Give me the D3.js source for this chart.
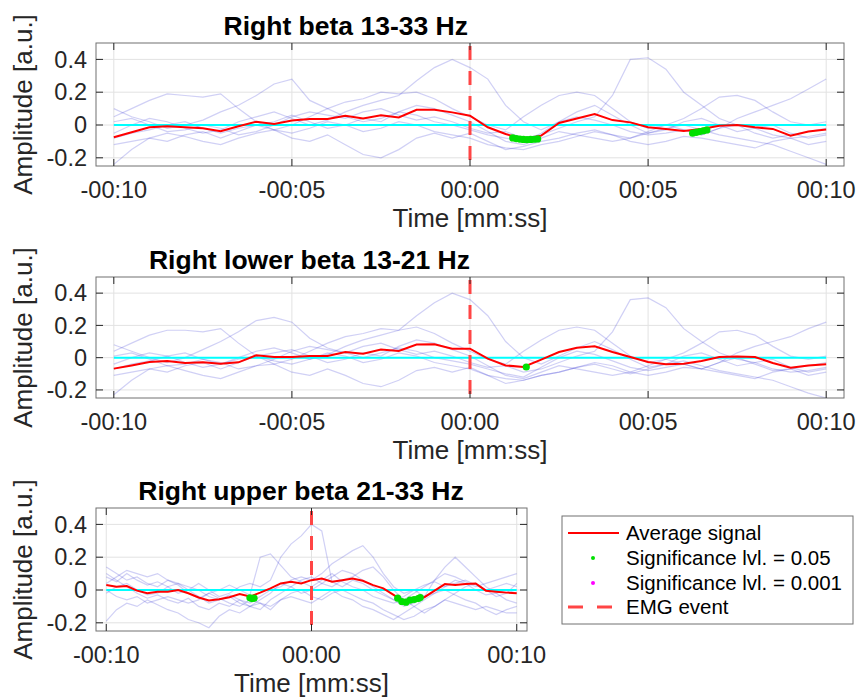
<!DOCTYPE html>
<html>
<head>
<meta charset="utf-8">
<script src="https://cdn.jsdelivr.net/npm/d3@7"></script>
<style>
  body { margin: 0; background: #fff; }
  text { font-family: "Liberation Sans", Arial, Helvetica, sans-serif; }
</style>
</head>
<body>
<div id="canvas"></div>
<script>
// sample grid (seconds around EMG event)
var times = [-10,-9.5,-9,-8.5,-8,-7.5,-7,-6.5,-6,-5.5,-5,-4.5,-4,-3.5,-3,-2.5,-2,-1.5,-1,-0.5,
  0,0.5,1,1.5,2,2.5,3,3.5,4,4.5,5,5.5,6,6.5,7,7.5,8,8.5,9,9.5,10];

// ---- Right beta 13-33 Hz ----
var avgBeta = [-0.075,-0.044,-0.014,-0.008,-0.014,-0.02,-0.038,-0.008,0.02,0.006,0.028,0.036,0.036,0.056,0.04,0.06,0.046,0.093,0.093,0.077,
  0.057,-0.014,-0.055,-0.085,-0.065,0.012,0.04,0.067,0.03,0.016,-0.014,-0.024,-0.036,-0.024,-0.004,0,-0.014,-0.024,-0.065,-0.04,-0.028];
var trialsBeta = [
  [0.10,0.05,0.02,-0.02,0.00,0.03,0.08,0.12,0.18,0.25,0.28,0.15,0.10,0.05,0.02,0.04,0.08,0.06,0.02,0.00,-0.03,-0.06,-0.08,-0.10,-0.05,0.02,0.05,0.03,0.00,-0.04,-0.06,-0.05,-0.03,-0.06,-0.02,0.00,-0.05,-0.08,-0.06,-0.04,-0.02],
  [-0.05,0.00,0.04,0.02,-0.02,-0.05,-0.03,0.02,0.05,0.08,0.04,0.00,0.03,0.08,0.12,0.15,0.18,0.27,0.35,0.40,0.35,0.28,0.12,0.02,-0.03,0.02,0.08,0.12,0.06,0.00,-0.05,-0.03,0.02,0.04,0.00,-0.04,-0.02,0.00,-0.05,-0.08,-0.06],
  [-0.24,-0.15,-0.08,-0.05,-0.07,-0.10,-0.12,-0.08,-0.05,-0.03,-0.08,-0.10,-0.06,-0.12,-0.18,-0.20,-0.15,-0.08,-0.05,-0.08,-0.05,-0.10,-0.15,-0.13,-0.10,-0.08,-0.05,-0.03,-0.06,-0.08,-0.05,-0.02,0.00,-0.03,-0.06,-0.08,-0.10,-0.12,-0.16,-0.20,-0.24],
  [0.05,0.10,0.15,0.19,0.18,0.17,0.19,0.10,0.02,-0.03,0.00,0.05,0.10,0.14,0.16,0.20,0.19,0.20,0.16,0.10,0.05,0.00,-0.03,0.05,0.12,0.18,0.20,0.18,0.10,0.02,-0.02,0.00,0.04,0.10,0.17,0.18,0.15,0.08,0.02,0.00,0.02],
  [0.02,0.04,0.00,-0.04,-0.03,0.00,-0.02,-0.06,-0.04,0.00,0.05,0.08,0.06,0.04,0.08,0.10,0.06,0.03,0.05,0.02,-0.02,-0.05,-0.04,-0.08,-0.06,-0.02,0.02,0.05,0.18,0.40,0.41,0.34,0.20,0.12,0.04,0.00,-0.02,-0.06,-0.08,-0.07,-0.05],
  [-0.08,-0.05,-0.03,0.00,0.02,-0.02,-0.05,-0.02,0.00,0.02,0.06,0.02,-0.02,0.00,0.04,0.02,0.08,0.12,0.10,0.06,0.02,-0.04,-0.10,-0.12,-0.08,-0.04,-0.06,-0.08,-0.10,-0.08,-0.04,0.00,-0.03,-0.06,-0.02,0.04,0.08,0.12,0.16,0.22,0.28],
  [-0.12,-0.10,-0.08,-0.10,-0.06,-0.04,-0.08,-0.04,0.00,-0.03,-0.05,-0.02,0.02,0.00,-0.04,-0.02,0.02,0.00,-0.04,-0.06,-0.08,-0.12,-0.14,-0.15,-0.12,-0.10,-0.07,-0.04,-0.06,-0.10,-0.12,-0.10,-0.07,-0.08,-0.10,-0.12,-0.14,-0.10,-0.08,-0.12,-0.10]
];
var sigTimesBeta = [1.2,1.3,1.4,1.5,1.6,1.7,1.8,1.9,6.25,6.35,6.45,6.55,6.65];
var sigValsBeta = [-0.079,-0.083,-0.086,-0.088,-0.089,-0.088,-0.087,-0.085,-0.05,-0.045,-0.04,-0.035,-0.03];

// ---- Right lower beta 13-21 Hz ----
var avgLow = [-0.068,-0.048,-0.027,-0.021,-0.033,-0.029,-0.037,-0.029,0.015,0.004,0.004,0.01,0.01,0.035,0.025,0.05,0.041,0.081,0.083,0.056,
  0.056,-0.006,-0.048,-0.058,-0.012,0.035,0.062,0.071,0.035,0.004,-0.027,-0.041,-0.037,-0.021,0.004,0.008,0.004,-0.033,-0.062,-0.048,-0.041];
var trialsLow = [
  [0.08,0.04,0.00,-0.03,0.00,0.05,0.10,0.16,0.23,0.25,0.22,0.12,0.06,0.03,0.00,0.03,0.06,0.04,0.00,-0.02,-0.04,-0.07,-0.10,-0.12,-0.06,0.00,0.04,0.02,-0.02,-0.06,-0.08,-0.06,-0.04,-0.07,-0.03,0.00,-0.04,-0.08,-0.07,-0.05,-0.03],
  [-0.04,0.00,0.03,0.01,-0.03,-0.06,-0.04,0.00,0.04,0.06,0.03,-0.01,0.02,0.07,0.11,0.14,0.17,0.26,0.34,0.40,0.36,0.26,0.10,0.00,-0.04,0.01,0.06,0.10,0.05,-0.01,-0.06,-0.04,0.01,0.03,-0.01,-0.05,-0.03,-0.01,-0.06,-0.09,-0.07],
  [-0.23,-0.14,-0.07,-0.05,-0.08,-0.11,-0.13,-0.09,-0.05,-0.04,-0.09,-0.11,-0.07,-0.11,-0.16,-0.18,-0.14,-0.08,-0.06,-0.09,-0.06,-0.11,-0.16,-0.14,-0.11,-0.09,-0.06,-0.04,-0.07,-0.10,-0.07,-0.04,-0.02,-0.05,-0.08,-0.10,-0.12,-0.14,-0.18,-0.22,-0.25],
  [0.04,0.09,0.14,0.17,0.17,0.16,0.18,0.09,0.01,-0.04,-0.01,0.04,0.09,0.13,0.15,0.18,0.17,0.19,0.15,0.09,0.04,-0.01,-0.04,0.04,0.11,0.17,0.19,0.17,0.09,0.01,-0.03,-0.01,0.03,0.09,0.16,0.17,0.14,0.07,0.01,-0.01,0.01],
  [0.01,0.03,-0.01,-0.05,-0.04,-0.01,-0.03,-0.07,-0.05,-0.01,0.04,0.07,0.05,0.03,0.07,0.09,0.05,0.02,0.04,0.01,-0.03,-0.06,-0.05,-0.09,-0.07,-0.03,0.01,0.04,0.16,0.36,0.37,0.31,0.18,0.10,0.03,-0.01,-0.03,-0.07,-0.09,-0.08,-0.06],
  [-0.07,-0.04,-0.02,0.01,0.03,-0.01,-0.04,-0.01,0.01,0.03,0.05,0.01,-0.03,-0.01,0.03,0.01,0.07,0.11,0.09,0.05,0.01,-0.05,-0.11,-0.13,-0.09,-0.05,-0.07,-0.09,-0.11,-0.09,-0.05,-0.01,-0.04,-0.07,-0.03,0.03,0.07,0.10,0.13,0.18,0.22],
  [-0.11,-0.09,-0.07,-0.09,-0.05,-0.03,-0.07,-0.03,0.01,-0.02,-0.04,-0.01,0.03,0.01,-0.03,-0.01,0.03,0.01,-0.03,-0.05,-0.07,-0.11,-0.13,-0.14,-0.11,-0.09,-0.06,-0.03,-0.05,-0.09,-0.11,-0.09,-0.06,-0.07,-0.09,-0.11,-0.13,-0.09,-0.07,-0.11,-0.09]
];
var sigTimesLow = [1.58];
var sigValsLow = [-0.058];

// ---- Right upper beta 21-33 Hz ----
var avgUp = [0.03,0.02,0.024,-0.004,-0.02,-0.01,-0.01,0,-0.02,-0.046,-0.064,-0.056,-0.044,-0.024,-0.04,-0.016,0.01,0.04,0.05,0.04,
  0.06,0.07,0.05,0.06,0.07,0.056,0.03,0.01,-0.03,-0.07,-0.056,-0.044,-0.004,0.036,0.03,0.036,0.04,-0.004,-0.01,-0.016,-0.02];
var trialsUp = [
  [0.14,0.10,0.06,0.08,0.04,0.02,0.06,0.03,-0.02,-0.05,-0.02,0.00,0.03,0.00,-0.03,0.20,0.22,0.15,0.08,0.05,0.02,0.06,0.10,0.05,0.02,0.00,-0.04,-0.06,-0.08,-0.06,-0.02,0.02,0.06,0.10,0.08,0.05,0.02,0.04,0.06,0.08,0.10],
  [0.08,0.05,0.10,0.06,0.03,0.05,0.02,-0.02,0.00,0.04,0.00,-0.04,-0.02,0.02,0.04,0.02,0.06,0.20,0.28,0.33,0.40,0.36,0.05,0.02,0.06,0.04,0.00,-0.03,-0.06,-0.04,0.00,0.03,0.05,0.02,0.04,0.06,0.03,0.00,0.02,0.04,0.02],
  [-0.19,-0.12,-0.08,-0.10,-0.06,-0.09,-0.12,-0.14,-0.18,-0.20,-0.23,-0.16,-0.12,-0.14,-0.10,-0.08,-0.12,-0.06,-0.02,0.00,-0.04,-0.06,-0.02,0.00,-0.03,-0.06,-0.08,-0.12,-0.15,-0.18,-0.16,-0.12,-0.10,-0.06,-0.08,-0.10,-0.12,-0.10,-0.12,-0.14,-0.14],
  [0.04,0.08,0.12,0.10,0.08,0.10,0.06,0.04,0.02,0.00,-0.04,-0.06,-0.03,-0.06,-0.08,-0.04,0.00,0.02,0.06,0.08,0.06,0.10,0.16,0.20,0.24,0.27,0.20,0.10,0.02,-0.02,0.00,-0.04,-0.02,0.02,0.06,0.04,0.00,-0.03,-0.02,0.00,-0.02],
  [-0.02,0.02,0.04,0.00,-0.03,-0.02,0.02,0.04,0.00,-0.04,-0.08,-0.06,-0.04,-0.08,-0.10,-0.06,-0.02,0.04,0.02,0.06,0.08,0.04,0.08,0.12,0.10,0.06,0.02,-0.02,-0.06,-0.10,-0.08,-0.04,0.06,0.14,0.20,0.14,0.08,0.02,-0.02,-0.06,-0.08],
  [0.10,0.06,0.02,-0.02,-0.05,-0.03,-0.06,-0.08,-0.05,-0.10,-0.12,-0.08,-0.10,-0.06,-0.10,-0.12,-0.06,-0.02,0.02,-0.02,0.00,0.04,0.02,0.06,0.08,0.12,0.14,0.08,0.00,-0.06,-0.10,-0.14,-0.10,-0.06,-0.02,0.02,0.04,0.00,-0.04,-0.02,0.04],
  [0.00,-0.04,-0.06,-0.04,-0.08,-0.06,-0.04,-0.06,-0.08,-0.06,-0.02,-0.05,-0.08,-0.10,-0.06,-0.08,-0.10,-0.06,-0.04,-0.06,-0.08,-0.04,0.00,-0.04,-0.06,-0.10,-0.12,-0.15,-0.18,-0.14,-0.10,-0.06,-0.02,0.00,-0.03,-0.06,-0.08,-0.12,-0.15,-0.12,-0.10]
];
var sigTimesUp = [-3.0,-2.9,-2.8,4.2,4.4,4.6,4.8,5.0,5.2,5.3];
var sigValsUp = [-0.048,-0.052,-0.05,-0.05,-0.07,-0.074,-0.062,-0.058,-0.052,-0.046];

var xTicksWide = [-10,-5,0,5,10];
var xTicksNarrow = [-10,0,10];
var yTicks = [-0.2,0,0.2,0.4];

var legendLabels = ['Average signal','Significance lvl. = 0.05','Significance lvl. = 0.001','EMG event'];

var W = 858, H = 700;
var svg = d3.select('#canvas').append('svg').attr('width', W).attr('height', H);

var panels = [
  {title:'Right beta 13-33 Hz', anchor:'end', tx:468, l:96, r:844, t:43, b:166, xt:xTicksWide,
   avg:avgBeta, trials:trialsBeta, st:sigTimesBeta, sv:sigValsBeta},
  {title:'Right lower beta 13-21 Hz', anchor:'end', tx:470, l:96, r:844, t:277, b:398, xt:xTicksWide,
   avg:avgLow, trials:trialsLow, st:sigTimesLow, sv:sigValsLow},
  {title:'Right upper beta 21-33 Hz', anchor:'middle', tx:301, l:96, r:527, t:508, b:631, xt:xTicksNarrow,
   avg:avgUp, trials:trialsUp, st:sigTimesUp, sv:sigValsUp}
];

function fmtTime(s){
  return (s < 0 ? '-' : '') + '00:' + String(Math.abs(s)).padStart(2,'0');
}

panels.forEach(function(p, i){
  var x = d3.scaleLinear().domain([-10.5,10.5]).range([p.l,p.r]);
  var y = d3.scaleLinear().domain([-0.25,0.5]).range([p.b,p.t]);
  var g = svg.append('g').attr('class','panel');

  g.append('clipPath').attr('id','clip'+i)
    .append('rect').attr('x',p.l).attr('y',p.t).attr('width',p.r-p.l).attr('height',p.b-p.t);

  // grid
  g.selectAll('.vg').data(p.xt).enter().append('line')
    .attr('x1',d=>x(d)).attr('x2',d=>x(d)).attr('y1',p.t).attr('y2',p.b)
    .style('stroke','#e2e2e2').style('stroke-width',1);
  g.selectAll('.hg').data(yTicks).enter().append('line')
    .attr('x1',p.l).attr('x2',p.r).attr('y1',d=>y(d)).attr('y2',d=>y(d))
    .style('stroke','#e2e2e2').style('stroke-width',1);

  var plot = g.append('g').attr('clip-path','url(#clip'+i+')');
  var line = d3.line().x((d,j)=>x(times[j])).y(d=>y(d));

  plot.selectAll('.trial').data(p.trials).enter().append('path')
    .attr('d',line)
    .style('fill','none').style('stroke','rgba(40,40,210,0.22)').style('stroke-width',1.2);

  // zero reference
  plot.append('line').attr('x1',x(-10)).attr('x2',x(10)).attr('y1',y(0)).attr('y2',y(0))
    .style('stroke','#00ffff').style('stroke-width',2);

  plot.append('path').datum(p.avg).attr('d',line)
    .style('fill','none').style('stroke','#ff0000').style('stroke-width',2);

  plot.selectAll('.sig').data(p.st).enter().append('circle')
    .attr('cx',d=>x(d)).attr('cy',(d,j)=>y(p.sv[j])).attr('r',3.6)
    .style('fill','#00e000');

  // EMG event
  plot.append('line').attr('x1',x(0)).attr('x2',x(0)).attr('y1',p.t+3).attr('y2',p.b)
    .style('stroke','#ff4545').style('stroke-width',3).style('stroke-dasharray','14,11');

  // box + inward ticks
  g.append('rect').attr('x',p.l).attr('y',p.t).attr('width',p.r-p.l).attr('height',p.b-p.t)
    .style('fill','none').style('stroke','#707070').style('stroke-width',1);
  var tl = 7;
  p.xt.forEach(function(d){
    g.append('line').attr('x1',x(d)).attr('x2',x(d)).attr('y1',p.b).attr('y2',p.b-tl).style('stroke','#262626');
    g.append('line').attr('x1',x(d)).attr('x2',x(d)).attr('y1',p.t).attr('y2',p.t+tl).style('stroke','#262626');
  });
  yTicks.forEach(function(d){
    g.append('line').attr('x1',p.l).attr('x2',p.l+tl).attr('y1',y(d)).attr('y2',y(d)).style('stroke','#262626');
    g.append('line').attr('x1',p.r).attr('x2',p.r-tl).attr('y1',y(d)).attr('y2',y(d)).style('stroke','#262626');
  });

  // tick labels
  g.selectAll('.xl').data(p.xt).enter().append('text')
    .attr('x',d=>x(d)).attr('y',p.b+32).attr('text-anchor','middle')
    .style('font-size','23.5px').style('fill','#262626').text(fmtTime);
  g.selectAll('.yl').data(yTicks).enter().append('text')
    .attr('x',p.l-9).attr('y',d=>y(d)).attr('dy','0.35em').attr('text-anchor','end')
    .style('font-size','23.5px').style('fill','#262626').text(d=>d===0?'0':String(d));

  // labels
  g.append('text').attr('x',(p.l+p.r)/2).attr('y',p.b+61).attr('text-anchor','middle')
    .style('font-size','26px').style('fill','#262626').text('Time [mm:ss]');
  g.append('text').attr('transform','translate(32,'+((p.t+p.b)/2)+') rotate(-90)')
    .attr('text-anchor','middle').style('font-size','26px').style('fill','#262626').text('Amplitude [a.u.]');
  g.append('text').attr('x',p.tx).attr('y',p.t-8).attr('text-anchor',p.anchor)
    .style('font-size','26.5px').style('font-weight','bold').style('fill','#000').text(p.title);
});

// legend
var lg = svg.append('g').attr('class','legend');
lg.append('rect').attr('x',562).attr('y',516).attr('width',291).attr('height',108)
  .style('fill','#fff').style('stroke','#707070').style('stroke-width',1);
var rowY = [533,558,583,607];
lg.append('line').attr('x1',568).attr('x2',619).attr('y1',rowY[0]).attr('y2',rowY[0])
  .style('stroke','#ff0000').style('stroke-width',2);
lg.append('circle').attr('cx',593).attr('cy',rowY[1]).attr('r',2).style('fill','#00e000');
lg.append('circle').attr('cx',593).attr('cy',rowY[2]).attr('r',2).style('fill','#ff00ff');
lg.append('line').attr('x1',568).attr('x2',619).attr('y1',rowY[3]).attr('y2',rowY[3])
  .style('stroke','#ff4545').style('stroke-width',3).style('stroke-dasharray','15,14');
lg.selectAll('.lt').data(legendLabels).enter().append('text')
  .attr('x',626).attr('y',(d,i)=>rowY[i]).attr('dy','0.35em')
  .style('font-size','20.5px').style('fill','#000').text(d=>d);
</script>
</body>
</html>
